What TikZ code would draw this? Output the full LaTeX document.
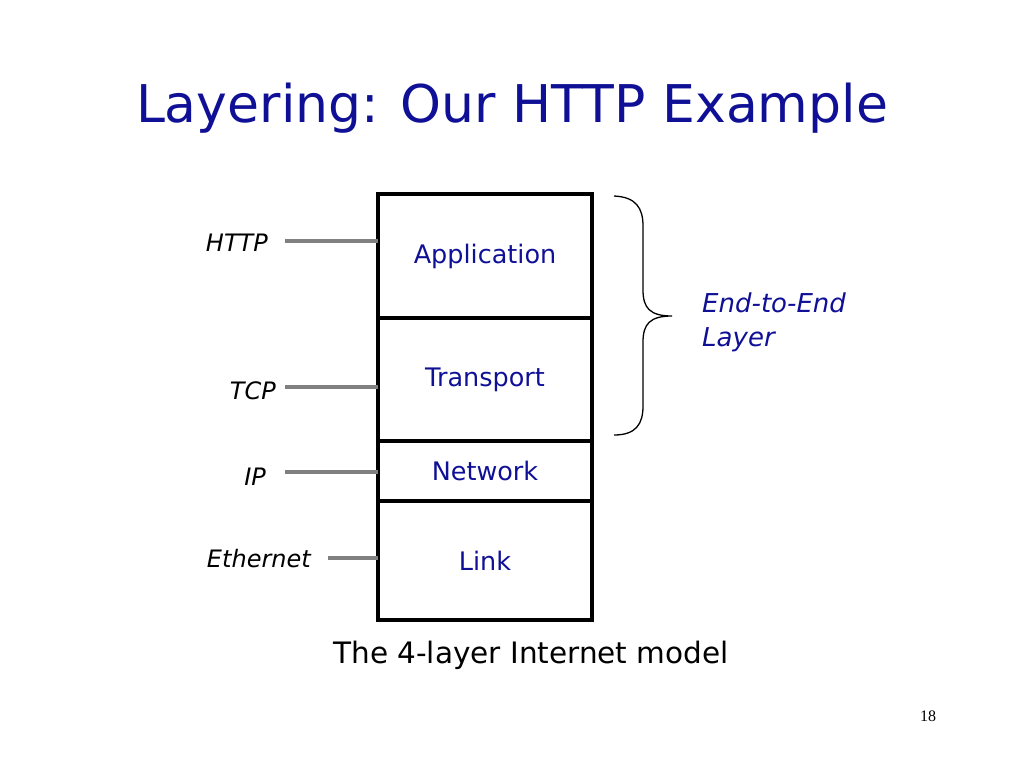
\documentclass[tikz,border=0pt]{standalone}
\usepackage{fontspec}
\setmainfont{DejaVu Sans}
\newfontfamily\serifnum{Liberation Serif}
\definecolor{navy}{RGB}{16,16,150}
\definecolor{conngray}{RGB}{128,128,128}
\begin{document}
\begin{tikzpicture}[x=1pt,y=-1pt,
  layer/.style={draw=black,line width=4pt,inner sep=0pt,outer sep=0pt,minimum width=214pt,
    text=navy,font=\fontsize{25.5}{28}\selectfont},
  proto/.style={inner sep=0pt,font=\itshape\fontsize{24}{27}\selectfont,text=black},
  conn/.style={draw=conngray,line width=4pt},
  brace/.style={draw=black,line width=1.3pt}]
\useasboundingbox (0,0) rectangle (1024,768);
\node[text=navy,font=\fontsize{52}{60}\selectfont] (title) at (512,108) {Layering: Our HTTP Example};
% layers
\node[layer,minimum height=124pt] (app) at (485,256) {Application};
\node[layer,minimum height=123pt] (trans) at (485,379.5) {Transport};
\node[layer,minimum height=60pt] (net) at (485,471) {Network};
\node[layer,minimum height=119pt] (link) at (485,560.5) {Link};
% protocol labels
\node[proto,anchor=east] (http) at (268,243) {HTTP};
\node[proto,anchor=east] (tcp) at (276,391) {TCP};
\node[proto,anchor=east] (ip) at (266,477) {IP};
\node[proto,anchor=east] (eth) at (311,559) {Ethernet};
\coordinate (chttp) at (285,241);
\coordinate (ctcp) at (285,387);
\coordinate (cip) at (285,472);
\coordinate (ceth) at (328,558);
\draw[conn] (chttp) -- (chttp -| app.west);
\draw[conn] (ctcp) -- (ctcp -| trans.west);
\draw[conn] (cip) -- (cip -| net.west);
\draw[conn] (ceth) -- (ceth -| link.west);
% brace
\coordinate (btop) at (614,196);
\coordinate (bbot) at (614,435);
\coordinate (btip) at (672,316);
\draw[brace] (btop) .. controls (636,197) and (643,208) .. (643,226)
  -- (643,290) .. controls (643,308) and (650,316) .. (btip)
  .. controls (650,316) and (643,324) .. (643,342)
  -- (643,406) .. controls (643,424) and (636,435) .. (bbot);
\node[text=navy,font=\itshape\fontsize{26}{34}\selectfont,align=left,anchor=west,inner sep=0pt] (e2e) at (702,322) {End-to-End\\Layer};
\node[font=\fontsize{29.5}{33}\selectfont,text=black] (cap) at (531,655) {The 4-layer Internet model};
\node[font=\serifnum\fontsize{16}{18}\selectfont,text=black] (pg) at (928,716) {18};
\end{tikzpicture}
\end{document}
